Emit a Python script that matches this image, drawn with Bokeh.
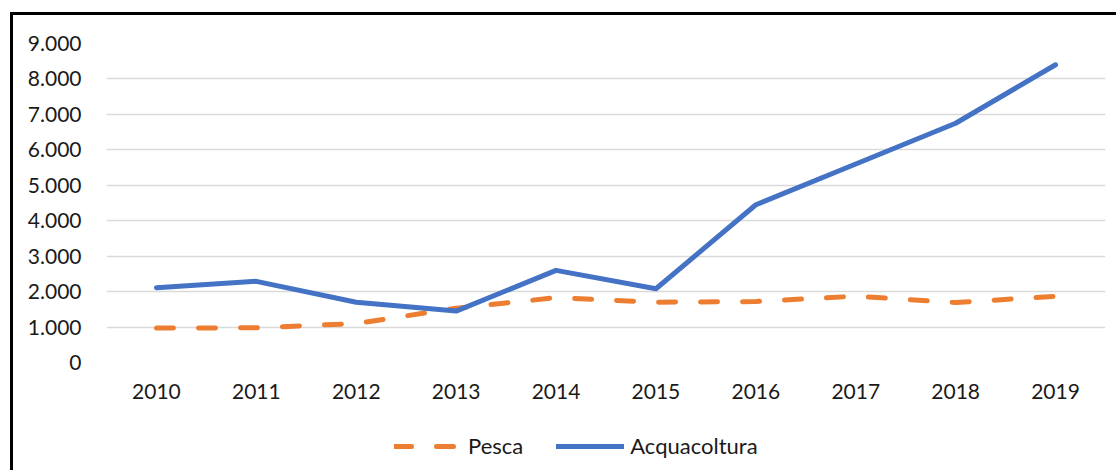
from bokeh.plotting import figure
from bokeh.layouts import column
from bokeh.models import Range1d, FactorRange, FixedTicker, Legend, LegendItem
from bokeh.embed import file_html
from bokeh.resources import INLINE

years = ["2010", "2011", "2012", "2013", "2014", "2015", "2016", "2017", "2018", "2019"]
pesca = [970, 980, 1100, 1530, 1830, 1700, 1720, 1870, 1690, 1870]
acquacoltura = [2110, 2290, 1700, 1450, 2600, 2080, 4450, 5600, 6750, 8400]
y_ticks = [0, 1000, 2000, 3000, 4000, 5000, 6000, 7000, 8000, 9000]
y_tick_labels = ["0", "1.000", "2.000", "3.000", "4.000", "5.000", "6.000", "7.000", "8.000", "9.000"]

FONT = "Lato"
TXT = "#1a1a1a"
ORANGE = "#ED7D31"
BLUE = "#4472C4"

p = figure(frame_width=996, frame_height=316, x_range=FactorRange(*years, range_padding=0),
           y_range=Range1d(0, 9000), output_backend="svg", toolbar_location=None,
           min_border_left=93, min_border_right=14, min_border_top=28, min_border_bottom=61)
p.margin = (12, 0, 0, 10)
p.outline_line_color = None
p.background_fill_color = "white"
p.border_fill_color = "white"
p.styles = {"border-top": "3px solid black", "border-left": "3px solid black"}

p.xgrid.grid_line_color = None
p.ygrid.grid_line_color = "#d9d9d9"
p.ygrid.grid_line_width = 1.5

p.yaxis.ticker = FixedTicker(ticks=y_ticks)
p.yaxis.major_label_overrides = {t: l for t, l in zip(y_ticks, y_tick_labels)}
for ax in (p.xaxis[0], p.yaxis[0]):
    ax.axis_line_color = None
    ax.major_tick_line_color = None
    ax.minor_tick_line_color = None
    ax.major_label_text_font = FONT
    ax.major_label_text_font_size = "21px"
    ax.major_label_text_color = TXT
p.yaxis.major_label_standoff = 19
p.xaxis.major_label_standoff = 15

p.line(years, pesca, line_color=ORANGE, line_width=5, line_dash="17 25",
       line_cap="round", line_join="round")
p.line(years, acquacoltura, line_color=BLUE, line_width=5,
       line_cap="round", line_join="round")

# legend strip below the chart (same series, drawn outside its visible range)
lg = figure(frame_width=1103, frame_height=50, x_range=FactorRange(*years),
            y_range=Range1d(20000, 30000), output_backend="svg", toolbar_location=None,
            x_axis_location=None, y_axis_location=None,
            min_border_left=0, min_border_right=0, min_border_top=0, min_border_bottom=0)
lg.margin = (0, 0, 0, 10)
lg.styles = {"border-left": "3px solid black"}
lg.outline_line_color = None
lg.grid.grid_line_color = None
lg.background_fill_color = "white"
lg.border_fill_color = "white"
lr_p = lg.line(years, pesca, line_color=ORANGE, line_width=5, line_dash="17 25",
               line_cap="round", line_join="round")
lr_a = lg.line(years, acquacoltura, line_color=BLUE, line_width=5,
               line_cap="round", line_join="round")

legend = Legend(items=[LegendItem(label="Pesca", renderers=[lr_p]),
                       LegendItem(label="Acquacoltura", renderers=[lr_a])],
                orientation="horizontal", location=(381, 11))
legend.label_text_font = FONT
legend.label_text_font_size = "22px"
legend.label_text_color = TXT
legend.glyph_width = 68
legend.label_standoff = 6
legend.spacing = 33
legend.border_line_color = None
legend.background_fill_alpha = 0
legend.padding = 0
legend.margin = 0
lg.add_layout(legend)

layout = column(p, lg, spacing=0)
open("out.html", "w").write(file_html(layout, INLINE))
